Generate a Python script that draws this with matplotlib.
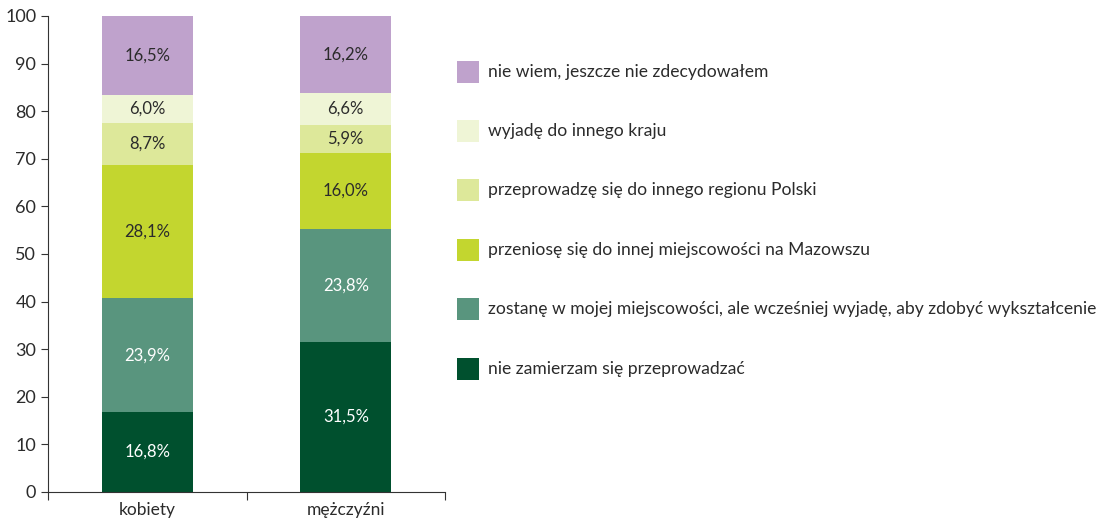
import numpy as np
import matplotlib
matplotlib.use('Agg')
import matplotlib.pyplot as plt
from matplotlib.patches import Rectangle

plt.rcParams['font.family'] = ['Lato', 'DejaVu Sans']

# dane: procent odpowiedzi wg płci
groups = ['kobiety', 'mężczyźni']
categories = [
    'nie zamierzam się przeprowadzać',
    'zostanę w mojej miejscowości, ale wcześniej wyjadę, aby zdobyć wykształcenie',
    'przeniosę się do innej miejscowości na Mazowszu',
    'przeprowadzę się do innego regionu Polski',
    'wyjadę do innego kraju',
    'nie wiem, jeszcze nie zdecydowałem',
]
kobiety = [16.8, 23.9, 28.1, 8.7, 6.0, 16.5]
mezczyzni = [31.5, 23.8, 16.0, 5.9, 6.6, 16.2]
colors = ['#00502E', '#59957E', '#C3D62F', '#DDE89A', '#EFF5D6', '#BFA2CC']
label_colors = ['white', 'white', '#2b2b2b', '#2b2b2b', '#2b2b2b', '#2b2b2b']

values = np.array([kobiety, mezczyzni])

fig = plt.figure(figsize=(11.06, 5.21), dpi=100)
ax = fig.add_axes([0.0434, 0.0557, 0.359, 0.9136])

x = np.array([0.5, 1.5])
bottom = np.zeros(len(groups))
for i, cat in enumerate(categories):
    vals = values[:, i]
    ax.bar(x, vals, width=0.46, bottom=bottom, color=colors[i], edgecolor='none')
    for xi, b, v in zip(x, bottom, vals):
        ax.text(xi, b + v / 2, f'{v:.1f}%'.replace('.', ','), ha='center', va='center',
                fontsize=12, color=label_colors[i])
    bottom += vals

ax.set_xlim(0, 2)
ax.set_ylim(0, 100)
ax.set_yticks(range(0, 101, 10))
ax.set_xticks([0, 1, 2])
ax.set_xticklabels([])
ax.set_xticks(x, minor=True)
ax.set_xticklabels(groups, minor=True)
ax.tick_params(axis='x', which='minor', length=0, labelsize=12.5, pad=7, colors='#2b2b2b')
ax.tick_params(axis='x', which='major', length=6, width=0.8, color='#333333')
ax.tick_params(axis='y', length=5, width=0.8, labelsize=13, color='#333333', labelcolor='#2b2b2b')
for s in ['top', 'right']:
    ax.spines[s].set_visible(False)
for s in ['left', 'bottom']:
    ax.spines[s].set_color('#333333')
    ax.spines[s].set_linewidth(0.8)

# legenda rysowana ręcznie, od góry
W, H = 1106, 521
legend_y = [72, 131, 190, 250, 309, 369]
for i, y in enumerate(legend_y):
    idx = len(categories) - 1 - i
    fig.add_artist(Rectangle(((457) / W, 1 - (y + 11) / H), 22 / W, 22 / H,
                             transform=fig.transFigure, facecolor=colors[idx], edgecolor='none'))
    fig.text(488 / W, 1 - y / H, categories[idx], ha='left', va='center',
             fontsize=12.6, color='#2b2b2b')

fig.savefig('out.png', dpi=100)
